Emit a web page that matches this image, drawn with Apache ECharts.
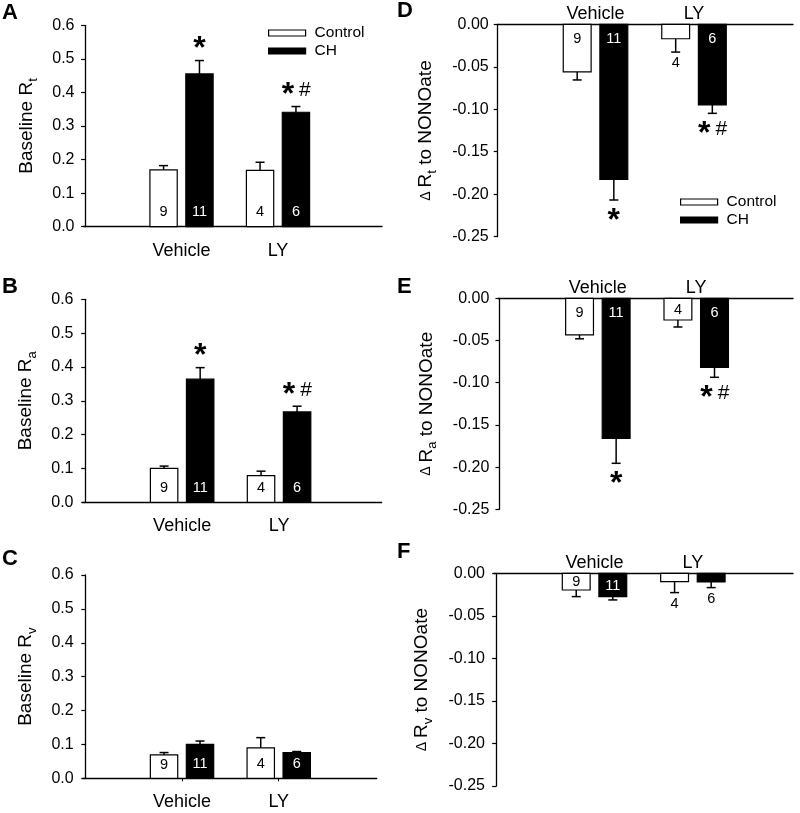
<!DOCTYPE html>
<html><head><meta charset="utf-8">
<script src="https://cdn.jsdelivr.net/npm/echarts@6/dist/echarts.min.js"></script>
<style>html,body{margin:0;padding:0;background:#fff}#c{width:800px;height:813px}</style>
</head><body><div id="c"></div>
<script>
// ---------------- DATA ----------------
const categories = ['Vehicle', 'LY'];
const groupNames = ['Control', 'CH'];
const nControl = [9, 4];
const nCH = [11, 6];

// A: Baseline Rt
const aControl = [0.169, 0.168];
const aControlErr = [0.013, 0.024];
const aCH = [0.455, 0.341];
const aCHErr = [0.040, 0.017];
const aSig = ['*', '*#'];
// B: Baseline Ra
const bControl = [0.100, 0.079];
const bControlErr = [0.007, 0.013];
const bCH = [0.364, 0.267];
const bCHErr = [0.034, 0.017];
const bSig = ['*', '*#'];
// C: Baseline Rv
const cControl = [0.069, 0.090];
const cControlErr = [0.007, 0.030];
const cCH = [0.100, 0.076];
const cCHErr = [0.010, 0.003];
const cSig = ['', ''];
// D: delta Rt to NONOate
const dControl = [-0.056, -0.017];
const dControlErr = [0.0095, 0.0157];
const dCH = [-0.1825, -0.095];
const dCHErr = [0.0243, 0.0098];
const dSig = ['*', '*#'];
// E: delta Ra to NONOate
const eControl = [-0.0434, -0.0257];
const eControlErr = [0.0046, 0.0083];
const eCH = [-0.166, -0.082];
const eCHErr = [0.0295, 0.0116];
const eSig = ['*', '*#'];
// F: delta Rv to NONOate
const fControl = [-0.0196, -0.0098];
const fControlErr = [0.0078, 0.0129];
const fCH = [-0.0274, -0.0102];
const fCHErr = [0.0039, 0.0066];
const fSig = ['', ''];

// ---------------- CHART ----------------
const FONT = '"Liberation Sans", Arial, Helvetica, sans-serif';
const BAR_W = 0.283, OFF = 0.186;

const panels = [
  {letter:'A', lx:2, ly:2, grid:{left:83.5, top:25.3, width:298.5, height:201.4}, xr:[-0.016, 3.078], side:'L', sub:'t',
   ctrl:aControl, ctrlErr:aControlErr, ch:aCH, chErr:aCHErr, sig:aSig},
  {letter:'B', lx:2, ly:276, grid:{left:82.5, top:299.3, width:299.2, height:203}, xr:[-0.028, 3.059], side:'L', sub:'a',
   ctrl:bControl, ctrlErr:bControlErr, ch:bCH, chErr:bCHErr, sig:bSig},
  {letter:'C', lx:2, ly:548, grid:{left:82.7, top:575, width:294, height:203.3}, xr:[-0.027, 3.013], side:'L', sub:'v', ticks:true,
   ctrl:cControl, ctrlErr:cControlErr, ch:cCH, chErr:cCHErr, sig:cSig},
  {letter:'D', lx:397, ly:0, grid:{left:497.7, top:24.3, width:295.3, height:212.4}, xr:[0.007, 3.005], side:'R', sub:'t',
   ctrl:dControl, ctrlErr:dControlErr, ch:dCH, chErr:dCHErr, sig:dSig},
  {letter:'E', lx:397, ly:276, grid:{left:498.3, top:298.3, width:294.7, height:211}, xr:[-0.012, 2.984], side:'R', sub:'a',
   ctrl:eControl, ctrlErr:eControlErr, ch:eCH, chErr:eCHErr, sig:eSig},
  {letter:'F', lx:397, ly:541, grid:{left:494, top:573.3, width:299, height:212.7}, xr:[-0.022, 3.018], side:'R', sub:'v',
   ctrl:fControl, ctrlErr:fControlErr, ch:fCH, chErr:fCHErr, sig:fSig}
];

const axisLine = {show:true, lineStyle:{color:'#000', width:1.3}};

function makeSeries(pi, isCH, vals, errs, ns, sigs) {
  const off = isCH ? OFF : -OFF;
  return {
    type:'custom', name: isCH ? groupNames[1] : groupNames[0],
    xAxisIndex: pi, yAxisIndex: pi, clip:false, silent:true,
    itemStyle:{color: isCH ? '#000' : '#fff'},
    encode:{x:0, y:1},
    data: categories.map((c, i) => [i + 1 + off, vals[i], errs[i], ns[i], i]),
    renderItem: function (params, api) {
      const x = api.value(0), v = api.value(1), e = api.value(2), n = api.value(3), idx = api.value(4);
      const dir = v >= 0 ? 1 : -1;
      const p0 = api.coord([x, 0]), p1 = api.coord([x, v]), p2 = api.coord([x, v + dir * e]);
      const w = api.size([BAR_W, 0])[0];
      const cx = p0[0];
      const h = Math.abs(p1[1] - p0[1]);
      const ch = [];
      ch.push({type:'line', shape:{x1:cx, y1:p1[1], x2:cx, y2:p2[1]}, style:{stroke:'#000', lineWidth:1.5}});
      ch.push({type:'line', shape:{x1:cx - 4.5, y1:p2[1], x2:cx + 4.5, y2:p2[1]}, style:{stroke:'#000', lineWidth:1.5}});
      ch.push({type:'rect', shape:{x:cx - w / 2, y:Math.min(p0[1], p1[1]), width:w, height:h},
               style:{fill: isCH ? '#000' : '#fff', stroke:'#000', lineWidth:1.2}});
      let ly, col;
      if (h >= 15) { ly = p0[1] - dir * Math.min(14.5, h * 0.55); col = isCH ? '#fff' : '#000'; }
      else { ly = p2[1] - dir * 11; col = '#000'; }
      ch.push({type:'text', x:cx, y:ly, style:{text:String(n), fontSize:14.5, fontFamily:FONT, fill:col, align:'center', verticalAlign:'middle'}});
      const s = sigs[idx];
      if (s) {
        const cy = p2[1] - dir * 16;
        const hasHash = s.indexOf('#') >= 0;
        const sx = hasHash ? cx - 8 : cx;
        ch.push({type:'text', x:sx, y:cy + 5, style:{text:'*', fontSize:32, fontWeight:'bold', fontFamily:FONT, fill:'#000', align:'center', verticalAlign:'middle'}});
        if (hasHash) ch.push({type:'text', x:cx + 9, y:cy, style:{text:'#', fontSize:21, fontFamily:FONT, fill:'#000', align:'center', verticalAlign:'middle'}});
      }
      return {type:'group', children:ch};
    }
  };
}

const grids = [], xAxes = [], yAxes = [], series = [], titles = [];
panels.forEach((p, pi) => {
  grids.push(p.grid);
  titles.push({text:p.letter, left:p.lx, top:p.ly, padding:0, textStyle:{fontSize:22, fontWeight:'bold', color:'#000', fontFamily:FONT}});
  const left = p.side === 'L';
  xAxes.push({
    type:'value', gridIndex:pi, min:p.xr[0], max:p.xr[1], position: left ? 'bottom' : 'top',
    axisLine:{show:true, onZero:false, lineStyle:{color:'#000', width:1.3}},
    axisTick:{show: !!p.ticks, length:3, customValues:[1, 2], lineStyle:{color:'#000', width:1}},
    splitLine:{show:false},
    axisLabel:{customValues:[1, 2], formatter: v => categories[Math.round(v) - 1] || '', fontSize:18, color:'#000', fontFamily:FONT, margin: left ? 15 : 1}
  });
  const nameRich = {
    m:{fontSize:19, fontFamily:FONT, color:'#000', lineHeight:22, verticalAlign:'middle'},
    s:{fontSize:13, fontFamily:FONT, color:'#000', lineHeight:13, padding:[11, 0, 0, 0], verticalAlign:'top'},
    d:{fontSize:14, fontFamily:FONT, color:'#000', lineHeight:22, verticalAlign:'middle'}
  };
  yAxes.push({
    type:'value', gridIndex:pi,
    min: left ? 0 : -0.25, max: left ? 0.6 : 0, interval: left ? 0.1 : 0.05,
    axisLine: axisLine,
    axisTick:{show:true, length:4, lineStyle:{color:'#000', width:1.2}},
    splitLine:{show:false},
    axisLabel:{fontSize:16, color:'#000', fontFamily:FONT, margin:9,
      formatter: v => (Math.abs(v) < 1e-9 ? 0 : v).toFixed(left ? 1 : 2)},
    name: left ? '{m|Baseline R}{s|' + p.sub + '}' : '{d|\u0394 }{m|R}{s|' + p.sub + '}{m| to NONOate}',
    nameLocation:'middle', nameGap: left ? 46 : 61, nameRotate:90,
    nameTextStyle:{rich:nameRich}
  });
  series.push(makeSeries(pi, false, p.ctrl, p.ctrlErr, nControl, ['', '']));
  series.push(makeSeries(pi, true, p.ch, p.chErr, nCH, p.sig));
});

const legendData = [
  {name:'Control', icon:'rect', itemStyle:{color:'#fff', borderColor:'#000', borderWidth:1.2}},
  {name:'CH', icon:'rect', itemStyle:{color:'#000', borderColor:'#000', borderWidth:1.2}}
];
const legendBase = {orient:'vertical', itemWidth:37, itemHeight:6, itemGap:2, selectedMode:false, padding:0,
  textStyle:{fontSize:15.5, color:'#000', fontFamily:FONT, padding:[0, 0, 0, 4]}, data:legendData};

const chart = echarts.init(document.getElementById('c'), null, {renderer:'canvas'});
chart.setOption({
  animation:false,
  backgroundColor:'#fff',
  title:titles,
  legend:[Object.assign({left:268, top:25}, legendBase), Object.assign({left:680, top:194}, legendBase)],
  grid:grids, xAxis:xAxes, yAxis:yAxes, series:series
});
</script></body></html>
